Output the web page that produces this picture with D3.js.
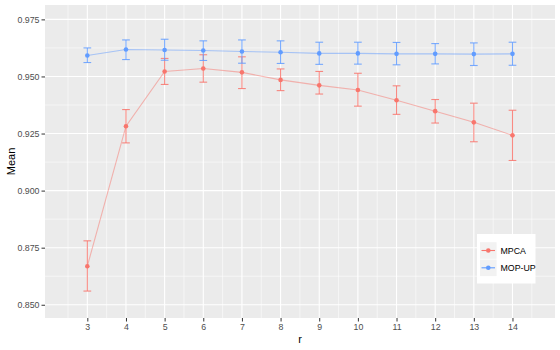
<!DOCTYPE html>
<html><head><meta charset="utf-8">
<script src="https://cdn.jsdelivr.net/npm/d3@7"></script>
<style>body{margin:0;background:#fff}svg{display:block}</style>
</head><body>
<svg id="c" width="560" height="350"></svg>
<script>
const rValues = [3,4,5,6,7,8,9,10,11,12,13,14];
const seriesNames = ["MPCA","MOP-UP"];
const seriesColors = ["#F8766D","#619CFF"];
const mpcaMean = [0.8669,0.9282,0.9522,0.9535,0.9518,0.9485,0.9461,0.9441,0.9396,0.9348,0.9299,0.9242];
const mpcaLow  = [0.8560,0.9209,0.9465,0.9475,0.9447,0.9438,0.9423,0.9370,0.9334,0.9296,0.9214,0.9132];
const mpcaHigh = [0.8780,0.9355,0.9579,0.9595,0.9586,0.9533,0.9522,0.9514,0.9459,0.9399,0.9383,0.9352];
const mopMean = [0.9592,0.9618,0.9616,0.9614,0.9609,0.9606,0.9601,0.9601,0.9599,0.9599,0.9598,0.9599];
const mopLow  = [0.9561,0.9574,0.9571,0.9570,0.9558,0.9557,0.9553,0.9554,0.9551,0.9555,0.9548,0.9549];
const mopHigh = [0.9625,0.9660,0.9663,0.9656,0.9660,0.9656,0.9650,0.9650,0.9649,0.9644,0.9647,0.9650];
const yTicks = [0.850,0.875,0.900,0.925,0.950,0.975];

const series = [
  {name: seriesNames[0], color: seriesColors[0], mean: mpcaMean, low: mpcaLow, high: mpcaHigh},
  {name: seriesNames[1], color: seriesColors[1], mean: mopMean, low: mopLow, high: mopHigh}
];

const FONT = "Liberation Sans, Arial, sans-serif";
const svg = d3.select("#c");
const L = 45, R = 555, T = 5, B = 318;
const x = d3.scaleLinear().domain([1.905, 15.1]).range([L, R]);
const y = d3.scaleLinear().domain([0.8442, 0.9813]).range([B, T]);

svg.append("rect").attr("x", L).attr("y", T).attr("width", R-L).attr("height", B-T).attr("fill", "#EBEBEB");

const g = svg.append("g");
const yMinor = d3.range(0, yTicks.length+1).map(i => 0.8375 + i*0.025).filter(v => v > y.domain()[0] && v < y.domain()[1]);
const xMinor = rValues.map(v => v - 0.5).concat([14.5]);
g.selectAll(".ym").data(yMinor).join("line").attr("x1", L).attr("x2", R)
  .attr("y1", d => y(d)).attr("y2", d => y(d)).attr("stroke", "#fff").attr("stroke-width", 0.55);
g.selectAll(".xm").data(xMinor).join("line").attr("y1", T).attr("y2", B)
  .attr("x1", d => x(d)).attr("x2", d => x(d)).attr("stroke", "#fff").attr("stroke-width", 0.55);
g.selectAll(".yM").data(yTicks).join("line").attr("x1", L).attr("x2", R)
  .attr("y1", d => y(d)).attr("y2", d => y(d)).attr("stroke", "#fff").attr("stroke-width", 1.1);
g.selectAll(".xM").data(rValues).join("line").attr("y1", T).attr("y2", B)
  .attr("x1", d => x(d)).attr("x2", d => x(d)).attr("stroke", "#fff").attr("stroke-width", 1.1);

const yAxis = svg.append("g").attr("transform", `translate(${L},0)`)
  .call(d3.axisLeft(y).tickValues(yTicks).tickFormat(d3.format(".3f")).tickSize(3.5).tickPadding(2));
const xAxis = svg.append("g").attr("transform", `translate(0,${B})`)
  .call(d3.axisBottom(x).tickValues(rValues).tickFormat(d3.format("d")).tickSize(3.5).tickPadding(2));
[yAxis, xAxis].forEach(a => {
  a.select(".domain").remove();
  a.selectAll(".tick line").attr("stroke", "#333").attr("stroke-width", 1);
  a.selectAll(".tick text").attr("fill", "#4D4D4D").style("font-family", FONT).style("font-size", "8.8px");
});

series.forEach(s => {
  const pts = rValues.map((r, i) => ({r, m: s.mean[i], lo: s.low[i], hi: s.high[i]}));
  const line = d3.line().x(d => x(d.r)).y(d => y(d.m));
  svg.append("path").datum(pts).attr("d", line).attr("fill", "none")
    .attr("stroke", s.color).attr("stroke-opacity", 0.5).attr("stroke-width", 1.1);
  const eb = svg.append("g").attr("stroke", s.color).attr("stroke-width", 1.1).attr("stroke-opacity", 0.85);
  eb.selectAll(".v").data(pts).join("line").attr("x1", d => x(d.r)).attr("x2", d => x(d.r))
    .attr("y1", d => y(d.lo)).attr("y2", d => y(d.hi));
  eb.selectAll(".t").data(pts).join("line").attr("x1", d => x(d.r - 0.1)).attr("x2", d => x(d.r + 0.1))
    .attr("y1", d => y(d.hi)).attr("y2", d => y(d.hi));
  eb.selectAll(".b").data(pts).join("line").attr("x1", d => x(d.r - 0.1)).attr("x2", d => x(d.r + 0.1))
    .attr("y1", d => y(d.lo)).attr("y2", d => y(d.lo));
  svg.append("g").selectAll("circle").data(pts).join("circle")
    .attr("cx", d => x(d.r)).attr("cy", d => y(d.m)).attr("r", 2.3).attr("fill", s.color);
});

svg.append("text").attr("x", (L+R)/2).attr("y", 342.5).attr("text-anchor", "middle")
  .style("font-family", FONT).style("font-size", "11px").attr("fill", "#000").text("r");
svg.append("text").attr("transform", `translate(14.8,${(T+B)/2}) rotate(-90)`).attr("text-anchor", "middle")
  .style("font-family", FONT).style("font-size", "11px").attr("fill", "#000").text("Mean");

const lg = svg.append("g");
lg.append("rect").attr("x", 477).attr("y", 234).attr("width", 58.5).attr("height", 49.5).attr("fill", "#fff");
series.forEach((s, i) => {
  const cy = 250.5 + i * 17.3;
  lg.append("rect").attr("x", 480).attr("y", cy - 8.3).attr("width", 16.6).attr("height", 16.6).attr("fill", "#F2F2F2");
  lg.append("line").attr("x1", 481.5).attr("x2", 495).attr("y1", cy).attr("y2", cy)
    .attr("stroke", s.color).attr("stroke-width", 1.1);
  lg.append("circle").attr("cx", 488.3).attr("cy", cy).attr("r", 2.3).attr("fill", s.color);
  lg.append("text").attr("x", 500.5).attr("y", cy + 3.2).style("font-family", FONT)
    .style("font-size", "8.8px").attr("fill", "#000").text(s.name);
});
</script>
</body></html>
